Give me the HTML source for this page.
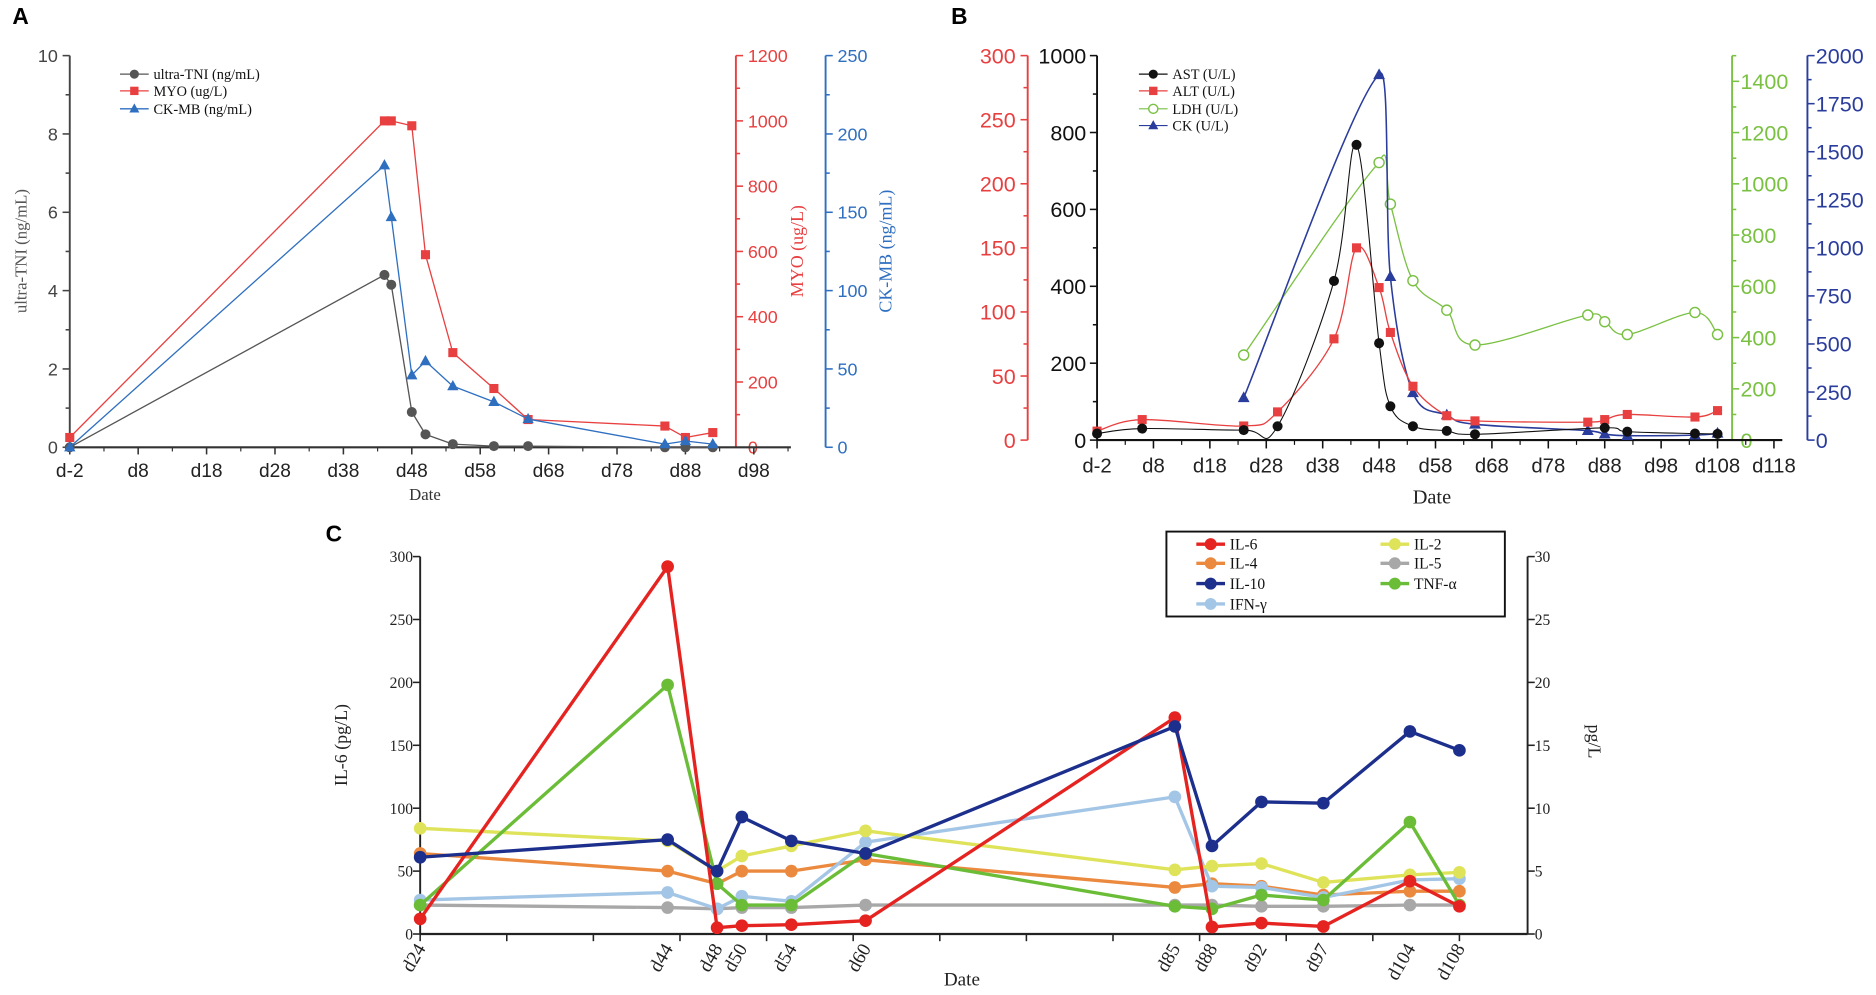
<!DOCTYPE html>
<html><head><meta charset="utf-8"><style>
html,body{margin:0;padding:0;background:#fff}
svg{display:block}
text{font-family:"Liberation Sans",sans-serif}
.serif{font-family:"Liberation Serif",serif}
</style></head><body>
<svg id="fig" width="1876" height="995" viewBox="0 0 1568 832" xmlns="http://www.w3.org/2000/svg">
<text x="10" y="20" font-size="19" font-weight="bold">A</text>
<text x="795" y="20" font-size="19" font-weight="bold">B</text>
<text x="272" y="453" font-size="19" font-weight="bold">C</text>
<g id="pa"></g>
<g id="pb"></g>
<g id="pc"></g>
</svg>
<script>
// ---------- Panel A data ----------
const aDays = [-2,44,45,48,50,54,60,65,85,88,92];
const aTNI = [0,4.4,4.15,0.9,0.33,0.08,0.03,0.03,0,0,0];
const aMYO = [30,1000,1000,985,590,290,180,85,65,30,45];
const aCKMB = [0,180,147,46,55,39,29,18,2,4,2];
const aXTicks = ['d-2','d8','d18','d28','d38','d48','d58','d68','d78','d88','d98'];
// ---------- Panel B data ----------
const bAstDays = [-2,6,24,30,40,44,48,50,54,60,65,88,92,104,108];
const bAST = [17,30,26,36,414,768,252,88,36,24,15,32,22,17,16];
const bAltDays = [-2,6,24,30,40,44,48,50,54,60,65,85,88,92,104,108];
const bALT = [7,16,11,22,79,150,119,84,42,19,15,14,16,20,18,23];
const bLdhDays = [24,48,50,54,60,65,85,88,92,104,108];
const bLDH = [332,1083,921,622,507,371,488,462,412,498,412];
const bCkDays = [24,48,50,54,60,65,85,88,92,104,108];
const bCK = [220,1900,850,246,130,82,49,31,23,26,35];
const bXTicks = ['d-2','d8','d18','d28','d38','d48','d58','d68','d78','d88','d98','d108','d118'];
// ---------- Panel C data ----------
const cDays = [24,44,48,50,54,60,85,88,92,97,104,108];
const cDayLabels = ['d24','d44','d48','d50','d54','d60','d85','d88','d92','d97','d104','d108'];
const cIL6 = [12,292,5,6.6,7.4,10.6,172,5.6,8.7,6,42,22];
const cIL2 = [8.4,7.4,5.0,6.2,7.0,8.2,5.1,5.4,5.6,4.1,4.7,4.9];
const cIL4 = [6.4,5.0,4.0,5.0,5.0,5.9,3.7,4.0,3.8,3.1,3.4,3.4];
const cIL5 = [2.3,2.1,2.0,2.1,2.1,2.3,2.3,2.3,2.2,2.2,2.3,2.3];
const cIL10 = [6.1,7.5,5.0,9.3,7.4,6.4,16.5,7.0,10.5,10.4,16.1,14.6];
const cTNF = [2.3,19.8,4.0,2.3,2.3,6.4,2.2,2.0,3.1,2.7,8.9,2.3];
const cIFN = [2.7,3.3,2.0,3.0,2.6,7.3,10.9,3.8,3.7,2.9,4.3,4.4];

const NS='http://www.w3.org/2000/svg';
function mk(parent,tag,attrs,txt){const e=document.createElementNS(NS,tag);for(const k in attrs)e.setAttribute(k,attrs[k]);if(txt!==undefined)e.textContent=txt;parent.appendChild(e);return e;}
function lin(d0,d1,r0,r1){return v=>r0+(v-d0)/(d1-d0)*(r1-r0);}
function clamp(v,a,b){const lo=Math.min(a,b),hi=Math.max(a,b);return Math.max(lo,Math.min(hi,v));}
function smoothPath(pts){
  if(pts.length<2)return '';
  let d='M'+pts[0][0]+','+pts[0][1];
  for(let i=0;i<pts.length-1;i++){
    const p0=pts[Math.max(0,i-1)],p1=pts[i],p2=pts[i+1],p3=pts[Math.min(pts.length-1,i+2)];
    const t=0.17;
    let c1x=p1[0]+(p2[0]-p0[0])*t,c1y=p1[1]+(p2[1]-p0[1])*t;
    let c2x=p2[0]-(p3[0]-p1[0])*t,c2y=p2[1]-(p3[1]-p1[1])*t;
    c1x=clamp(c1x,p1[0],p2[0]);c2x=clamp(c2x,p1[0],p2[0]);
    d+=' C'+c1x+','+c1y+' '+c2x+','+c2y+' '+p2[0]+','+p2[1];
  }
  return d;
}
function yAxis(g,x,y0,y1,vmax,major,minor,color,side,fs,name,labelOff,serif){
  const ax=mk(g,'g',{});
  
  
  mk(ax,'line',{x1:x,y1:y0,x2:x,y2:y1,stroke:color,'stroke-width':1.6});
  const s=lin(0,vmax,y0,y1);
  const dir=side==='left'?-1:1;
  for(let v=0;v<=vmax+1e-9;v+=minor){
    const isMaj=Math.abs(v/major-Math.round(v/major))<1e-6;
    mk(ax,'line',{x1:x,y1:s(v),x2:x+dir*(isMaj?6:3.5),y2:s(v),stroke:color,'stroke-width':1.3});
    if(isMaj){const t=mk(ax,'text',{x:x+dir*labelOff,y:s(v)+fs*0.36,'font-size':fs,fill:color,'text-anchor':side==='left'?'end':'start'},String(Math.round(v)));
      if(serif)t.setAttribute('class','serif');
      
      }
  }
  return s;
}
function marker(g,type,x,y,color,sz){
  let e;
  if(type==='circle')e=mk(g,'circle',{cx:x,cy:y,r:sz,fill:color});
  else if(type==='ocircle')e=mk(g,'circle',{cx:x,cy:y,r:sz,fill:'#fff',stroke:color,'stroke-width':1.2});
  else if(type==='square')e=mk(g,'rect',{x:x-sz,y:y-sz,width:2*sz,height:2*sz,fill:color});
  else e=mk(g,'polygon',{points:(x)+','+(y-sz*1.2)+' '+(x-sz*1.1)+','+(y+sz*0.8)+' '+(x+sz*1.1)+','+(y+sz*0.8),fill:color});
  
  
}
function series(g,name,xs,ys,sx,sy,color,mtype,msz,lw,smooth){
  const sg=mk(g,'g',{});
  
  
  const pts=xs.map((d,i)=>[sx(d),sy(ys[i])]);
  const d=smooth?smoothPath(pts):'M'+pts.map(p=>p[0]+','+p[1]).join(' L');
  mk(sg,'path',{d:d,fill:'none',stroke:color,'stroke-width':lw,'stroke-linejoin':'round'});
  pts.forEach(p=>marker(sg,mtype,p[0],p[1],color,msz));
}
function legendItem(g,x,y,color,mtype,label,fs,lw,msz,name,cls){
  const lg=mk(g,'g',{});
  
  
  mk(lg,'line',{x1:x,y1:y,x2:x+24,y2:y,stroke:color,'stroke-width':lw});
  marker(lg,mtype,x+12,y,color,msz);
  const t=mk(lg,'text',{x:x+28,y:y+fs*0.35,'font-size':fs,fill:'#111'},label);
  if(cls)t.setAttribute('class',cls);
}

// ================= Panel A =================
(function(){
  const g=document.getElementById('pa');
  const X0=58,Y0=374,Y1=46.5;
  const sx=lin(-2,98,58,630);
  const sL=yAxis(g,X0,Y0,Y1,10,2,1,'#444','left',15,'y-axis-left-tni',10);
  const sR=yAxis(g,615,Y0,Y1,1200,200,100,'#e84040','right',15,'y-axis-myo',10);
  const sB=yAxis(g,690,Y0,Y1,250,50,25,'#2f6fc0','right',15,'y-axis-ckmb',10);
  const xa=mk(g,'g',{});
  
  
  mk(xa,'line',{x1:X0,y1:Y0,x2:661,y2:Y0,stroke:'#333','stroke-width':1.8});
  aXTicks.forEach((l,i)=>{const d=-2+10*i;const x=sx(d);
    mk(xa,'line',{x1:x,y1:Y0,x2:x,y2:Y0+6,stroke:'#333','stroke-width':1.3});
    mk(xa,'line',{x1:sx(d+5),y1:Y0,x2:sx(d+5),y2:Y0+3.5,stroke:'#333','stroke-width':1});
    const t=mk(xa,'text',{x:x,y:Y0+25,'font-size':16,'text-anchor':'middle',fill:'#222'},l);
    
    });
  const t1=mk(g,'text',{x:355,y:418,'font-size':14,'text-anchor':'middle',class:'serif',fill:'#333'},'Date');
  
  const t2=mk(g,'text',{x:0,y:0,'font-size':14,'text-anchor':'middle',class:'serif',fill:'#555',transform:'translate(22,210) rotate(-90)'},'ultra-TNI (ng/mL)');
  
  const t3=mk(g,'text',{x:0,y:0,'font-size':15,'text-anchor':'middle',class:'serif',fill:'#e84040',transform:'translate(671,210) rotate(-90)'},'MYO (ug/L)');
  
  const t4=mk(g,'text',{x:0,y:0,'font-size':15,'text-anchor':'middle',class:'serif',fill:'#2f6fc0',transform:'translate(745,210) rotate(-90)'},'CK-MB (ng/mL)');
  
  series(g,'series-ultra-tni',aDays,aTNI,sx,sL,'#555','circle',4.2,1.1,false);
  series(g,'series-myo',aDays,aMYO,sx,sR,'#e84040','square',3.8,1.1,false);
  series(g,'series-ckmb',aDays,aCKMB,sx,sB,'#2f6fc0','tri',4.3,1.1,false);
  const lg=mk(g,'g',{});
  legendItem(lg,100,62,'#555','circle','ultra-TNI (ng/mL)',12,1.1,3.8,'legend-entry-tni','serif');
  legendItem(lg,100,76,'#e84040','square','MYO (ug/L)',12,1.1,3.5,'legend-entry-myo','serif');
  legendItem(lg,100,91,'#2f6fc0','tri','CK-MB (ng/mL)',12,1.1,3.8,'legend-entry-ckmb','serif');
})();

// ================= Panel B =================
(function(){
  const g=document.getElementById('pb');
  const Y0=368,Y1=46.5;
  const sx=lin(-2,118,917,1483);
  const sRed=yAxis(g,859,Y0,Y1,300,50,25,'#e84040','left',18,'y-axis-alt',10);
  const sBlk=yAxis(g,917,Y0,Y1,1000,200,100,'#111','left',18,'y-axis-ast',9);
  const sG=yAxis(g,1448,Y0,lin(0,1400,368,68)(1500),1500,200,100,'#7ac143','right',18,'y-axis-ldh',7);
  const sBl=yAxis(g,1511,Y0,Y1,2000,250,125,'#2a3c9c','right',18,'y-axis-ck',7);
  const xa=mk(g,'g',{});
  
  
  mk(xa,'line',{x1:917,y1:Y0,x2:1490,y2:Y0,stroke:'#111','stroke-width':1.8});
  bXTicks.forEach((l,i)=>{const d=-2+10*i;const x=sx(d);
    mk(xa,'line',{x1:x,y1:Y0,x2:x,y2:Y0+7,stroke:'#111','stroke-width':1.3});
    if(i<bXTicks.length-1)mk(xa,'line',{x1:sx(d+5),y1:Y0,x2:sx(d+5),y2:Y0+4,stroke:'#111','stroke-width':1});
    const t=mk(xa,'text',{x:x,y:Y0+27,'font-size':17,'text-anchor':'middle',fill:'#222'},l);
    
    });
  const t1=mk(g,'text',{x:1197,y:421,'font-size':17,'text-anchor':'middle',class:'serif',fill:'#222'},'Date');
  
  series(g,'series-ldh',bLdhDays,bLDH,sx,sG,'#7ac143','ocircle',4.2,1.1,true);
  series(g,'series-ck',bCkDays,bCK,sx,sBl,'#2a3c9c','tri',4.5,1.3,true);
  series(g,'series-alt',bAltDays,bALT,sx,sRed,'#e84040','square',3.8,1.1,true);
  series(g,'series-ast',bAstDays,bAST,sx,sBlk,'#111','circle',4.2,0.9,true);
  const lg=mk(g,'g',{});
  legendItem(lg,952,62,'#111','circle','AST (U/L)',12,1,3.8,'legend-entry-ast','serif');
  legendItem(lg,952,76,'#e84040','square','ALT (U/L)',12,1,3.5,'legend-entry-alt','serif');
  legendItem(lg,952,91,'#7ac143','ocircle','LDH (U/L)',12,1,3.8,'legend-entry-ldh','serif');
  legendItem(lg,952,105,'#2a3c9c','tri','CK (U/L)',12,1,3.8,'legend-entry-ck','serif');
})();

// ================= Panel C =================
(function(){
  const g=document.getElementById('pc');
  const X0=351,X1=1277,Y0=781,Y1=465.4;
  const sx=lin(24,108,351,1220);
  const sL=yAxis(g,X0,Y0,Y1,300,50,50,'#222','left',13,'y-axis-il6',6,true);
  const sR=yAxis(g,X1,Y0,Y1,30,5,5,'#222','right',13,'y-axis-pgl',6,true);
  const xa=mk(g,'g',{});
  
  
  mk(xa,'line',{x1:X0,y1:Y0,x2:X1,y2:Y0,stroke:'#222','stroke-width':1.8});
  for(let d=24;d<=108;d+=7){mk(xa,'line',{x1:sx(d),y1:Y0,x2:sx(d),y2:Y0+6,stroke:'#222','stroke-width':1.3});}
  cDayLabels.forEach((l,i)=>{const x=sx(cDays[i]);
    const t=mk(xa,'text',{x:0,y:0,'font-size':16,'text-anchor':'end',class:'serif',fill:'#222',transform:'translate('+(x+5)+','+(Y0+12)+') rotate(-60)'},l);
    
    });
  const t1=mk(g,'text',{x:804,y:824,'font-size':16,'text-anchor':'middle',class:'serif',fill:'#222'},'Date');
  
  const t2=mk(g,'text',{x:0,y:0,'font-size':15,'text-anchor':'middle',class:'serif',fill:'#222',transform:'translate(290,623) rotate(-90)'},'IL-6 (pg/L)');
  
  const t3=mk(g,'text',{x:0,y:0,'font-size':15,'text-anchor':'middle',class:'serif',fill:'#222',transform:'translate(1328,620) rotate(90)'},'pg/L');
  
  series(g,'series-il5',cDays,cIL5,sx,sR,'#a8a8a8','circle',5.3,2.8,false);
  series(g,'series-il4',cDays,cIL4,sx,sR,'#eb8a3f','circle',5.3,2.8,false);
  series(g,'series-ifn-gamma',cDays,cIFN,sx,sR,'#a4c6e6','circle',5.3,2.8,false);
  series(g,'series-il2',cDays,cIL2,sx,sR,'#dfe35a','circle',5.3,2.8,false);
  series(g,'series-tnf-alpha',cDays,cTNF,sx,sR,'#6bbd38','circle',5.3,2.8,false);
  series(g,'series-il6',cDays,cIL6,sx,sL,'#e52421','circle',5.3,2.8,false);
  series(g,'series-il10',cDays,cIL10,sx,sR,'#1d2f8c','circle',5.3,2.8,false);
  const lg=mk(g,'g',{});
  mk(lg,'rect',{x:975,y:444.5,width:283,height:71,fill:'#fff',stroke:'#111','stroke-width':1.6});
  const items=[['IL-6','#e52421',1000,455],['IL-2','#dfe35a',1154,455],['IL-4','#eb8a3f',1000,471],['IL-5','#a8a8a8',1154,471],['IL-10','#1d2f8c',1000,488],['TNF-α','#6bbd38',1154,488],['IFN-γ','#a4c6e6',1000,505]];
  items.forEach(it=>legendItem(lg,it[2],it[3],it[1],'circle',it[0],13,2.8,5,'legend-entry-'+it[0].toLowerCase().replace(/[^a-z0-9]/g,''),'serif'));
})();
</script>
</body></html>
